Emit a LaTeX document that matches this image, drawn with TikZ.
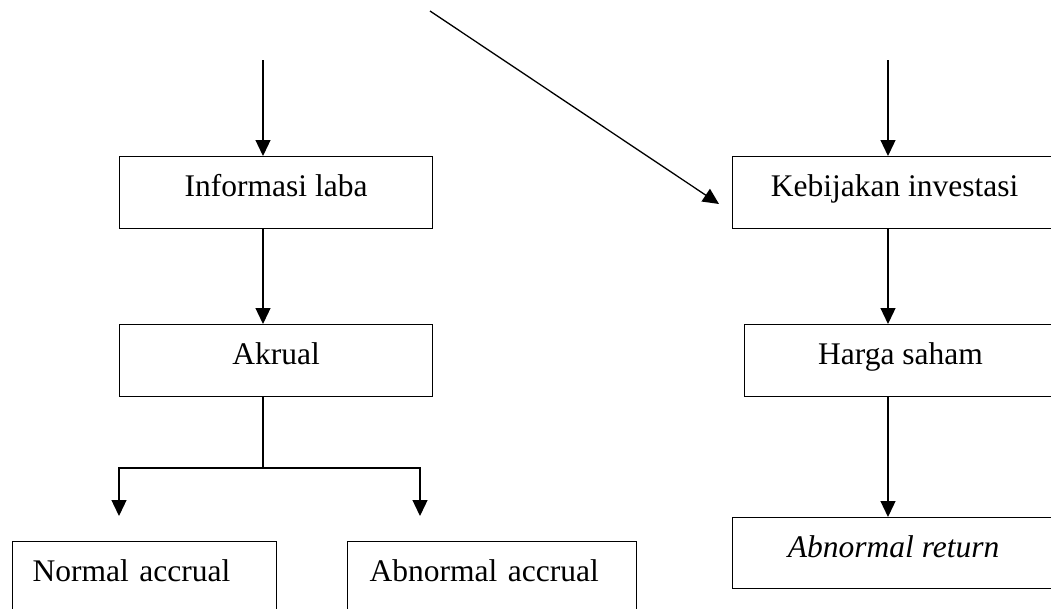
\documentclass[tikz,border=0pt]{standalone}
\usepackage{fontspec}
\setmainfont{Liberation Serif}
\usepackage{tikz}
\usetikzlibrary{arrows.meta}
\tikzset{box/.style={draw,rectangle,line width=1.2pt,anchor=north west,
        inner xsep=0pt,inner ysep=0pt,text height=40pt,text depth=32pt,
        minimum width=313pt},
    leftbox/.style={box,align=left,minimum width=0pt},
    arrow/.style={line width=1.3pt,-{Triangle[length=16pt,width=15pt]}}}

\begin{document}
\begin{tikzpicture}[x=1pt,y=-1pt,
        every node/.style={font=\fontsize{31.5}{38}\selectfont}]
    \useasboundingbox (0,0) rectangle (1051,608);
    \node[box] (info) at (119,156) {Informasi laba};
    \node[box] (akrual) at (119,324) {Akrual};
    \node[leftbox,inner xsep=20pt,text width=224pt] (normal) at (12,541) {Normal accrual};
    \node[leftbox,inner xsep=22pt,text width=245pt] (abnormal) at (347,541) {Abnormal accrual};
    \node[box,minimum width=324pt] (kebijakan) at (732,156) {Kebijakan investasi};
    \node[box,minimum width=312pt] (harga) at (744,324) {Harga saham};
    \node[box,minimum width=322pt,text depth=31pt] (return) at (732,517) {\itshape Abnormal return};

    \coordinate (topL) at (263,60);
    \coordinate (topR) at (888,60);
    \coordinate (diag) at (430,11);
    \coordinate (diagEnd) at (719,204);
    \coordinate (split) at (263,468);
    \coordinate (endN) at (119,516);
    \coordinate (endA) at (420,516);

    \draw[arrow] (topL) -- (topL |- info.north);
    \draw[arrow] (topL |- info.south) -- (topL |- akrual.north);
    \draw[line width=1.2pt] (topL |- akrual.south) -- (split);
    \draw[arrow] (split) -| (endN);
    \draw[arrow] (split) -| (endA);
    \draw[arrow] (diag) -- (diagEnd);
    \draw[arrow] (topR) -- (topR |- kebijakan.north);
    \draw[arrow] (topR |- kebijakan.south) -- (topR |- harga.north);
    \draw[arrow] (topR |- harga.south) -- (topR |- return.north);
\end{tikzpicture}
\end{document}
